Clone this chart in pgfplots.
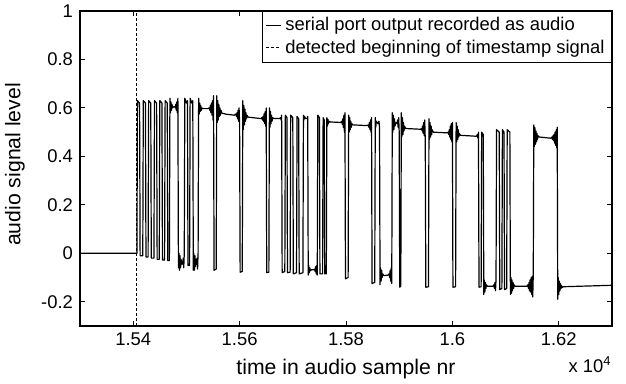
\documentclass[border=0pt]{standalone}
\usepackage{fontspec}
\setmainfont{Liberation Sans}
\usepackage{pgfplots}
\pgfplotsset{compat=1.18}
\pgfplotstableread{
x y
15300 0
15407 0
15408 0.63
15412 0.62
15413 -0.01
15418 -0.01
15419 0.63
15423 0.62
15424 -0.015
15428 -0.015
15429 0.63
15433 0.62
15434 -0.02
15439 -0.02
15440 0.63
15444 0.62
15445 -0.025
15449 -0.025
15450 0.63
15454 0.62
15455 -0.028
15459 -0.028
15460 0.63
15464 0.62
15465 -0.03
15468 -0.03
15469 0.64
15470 0.58
15471 0.625
15472 0.59
15473 0.615
15474 0.60
15476 0.605
15478 0.605
15479 0.60
15480 0.615
15481 0.59
15482 0.625
15483 0.58
15484 0.64
15485 -0.06
15486 0.0
15487 -0.07
15488 -0.01
15489 -0.06
15490 -0.025
15491 -0.045
15492 -0.035
15493 -0.045
15494 -0.02
15495 -0.06
15496 0.0
15497 0.64
15500 0.62
15502 0.63
15503 -0.05
15506 -0.05
15507 0.64
15510 0.62
15512 0.63
15513 -0.07
15514 0.0
15515 -0.07
15516 -0.01
15517 -0.055
15518 -0.025
15519 -0.045
15520 -0.02
15521 -0.065
15522 0.0
15523 0.64
15524 0.575
15525 0.62
15526 0.585
15527 0.61
15528 0.59
15529 0.60
15531 0.597
15540 0.597
15543 0.60
15544 0.59
15545 0.61
15546 0.58
15547 0.62
15548 0.57
15549 0.63
15550 0.55
15551 0.65
15552 -0.07
15556 -0.065
15557 0.65
15558 0.54
15559 0.63
15560 0.55
15561 0.615
15562 0.565
15563 0.60
15564 0.57
15565 0.59
15567 0.578
15575 0.574
15590 0.57
15593 0.575
15594 0.565
15595 0.58
15596 0.555
15597 0.59
15598 0.545
15599 0.60
15600 0.54
15601 -0.078
15605 -0.075
15606 0.63
15607 0.51
15608 0.61
15609 0.53
15610 0.595
15611 0.545
15612 0.58
15613 0.555
15614 0.57
15616 0.562
15640 0.556
15642 0.56
15643 0.55
15644 0.565
15645 0.545
15646 0.575
15647 0.535
15648 0.585
15649 0.525
15650 0.60
15651 -0.08
15655 -0.078
15656 0.60
15657 0.52
15658 0.585
15659 0.535
15660 0.57
15661 0.545
15662 0.56
15664 0.556
15675 0.556
15677 0.56
15678 0.55
15679 0.57
15680 -0.08
15685 -0.075
15686 0.57
15689 0.56
15690 -0.08
15695 -0.078
15696 0.57
15700 0.56
15701 -0.085
15707 -0.08
15708 0.565
15711 0.555
15712 -0.085
15719 -0.08
15720 0.57
15721 0.55
15722 0.565
15724 0.556
15727 0.556
15728 0.565
15729 -0.09
15730 -0.05
15731 -0.08
15732 -0.06
15733 -0.072
15735 -0.068
15740 -0.068
15741 -0.065
15742 -0.075
15743 -0.055
15744 -0.085
15745 -0.05
15746 -0.09
15747 0.57
15750 0.56
15751 -0.085
15756 -0.085
15757 0.56
15759 0.55
15760 -0.085
15763 -0.085
15764 0.56
15765 0.525
15766 0.553
15767 0.535
15768 0.545
15770 0.542
15790 0.54
15792 0.545
15793 0.532
15794 0.555
15795 0.52
15796 0.57
15797 0.50
15798 0.58
15799 -0.105
15804 -0.10
15805 0.57
15806 0.50
15807 0.56
15808 0.51
15809 0.545
15810 0.52
15811 0.535
15813 0.53
15840 0.527
15842 0.53
15843 0.52
15844 0.54
15845 0.51
15846 0.55
15847 0.50
15848 0.56
15849 -0.125
15854 -0.12
15855 0.56
15856 0.52
15857 0.545
15860 0.535
15862 0.545
15863 0.52
15864 -0.13
15865 -0.06
15866 -0.115
15867 -0.07
15868 -0.10
15869 -0.085
15871 -0.092
15879 -0.09
15881 -0.085
15882 -0.10
15883 -0.07
15884 -0.115
15885 -0.06
15886 -0.125
15887 0.58
15888 0.50
15889 0.57
15890 0.51
15891 0.555
15892 0.525
15894 0.54
15896 0.535
15897 0.55
15898 0.52
15899 0.56
15900 0.50
15901 -0.14
15903 -0.135
15904 0.58
15905 0.48
15906 0.56
15907 0.49
15908 0.54
15909 0.505
15910 0.525
15912 0.515
15940 0.512
15942 0.515
15943 0.505
15944 0.525
15945 0.495
15946 0.54
15947 0.485
15948 0.55
15949 0.47
15950 -0.14
15955 -0.138
15956 0.555
15957 0.47
15958 0.54
15959 0.48
15960 0.525
15961 0.49
15962 0.51
15964 0.50
15990 0.497
15992 0.50
15993 0.49
15994 0.51
15995 0.48
15996 0.525
15997 0.47
15998 0.535
15999 0.46
16000 0.54
16001 -0.14
16006 -0.138
16007 0.54
16008 0.46
16009 0.525
16010 0.47
16011 0.51
16012 0.48
16013 0.495
16015 0.487
16045 0.483
16047 0.49
16048 0.475
16049 0.50
16050 -0.14
16054 -0.138
16055 0.50
16058 0.49
16059 -0.17
16060 -0.11
16061 -0.16
16062 -0.12
16063 -0.145
16064 -0.13
16066 -0.136
16076 -0.136
16078 -0.13
16079 -0.145
16080 -0.12
16081 -0.155
16082 -0.11
16083 0.51
16088 0.50
16089 -0.15
16093 -0.145
16094 0.51
16097 0.50
16098 -0.15
16102 -0.145
16103 0.51
16108 0.50
16109 -0.17
16110 -0.10
16111 -0.165
16112 -0.11
16113 -0.155
16114 -0.12
16115 -0.145
16116 -0.13
16118 -0.136
16140 -0.136
16142 -0.13
16143 -0.145
16144 -0.12
16145 -0.155
16146 -0.11
16147 -0.16
16148 -0.10
16149 -0.17
16150 -0.095
16151 -0.18
16152 -0.09
16153 0.53
16154 0.44
16155 0.52
16156 0.45
16157 0.505
16158 0.46
16159 0.495
16160 0.47
16161 0.485
16163 0.48
16185 0.475
16187 0.48
16188 0.47
16189 0.485
16190 0.465
16191 0.49
16192 0.455
16193 0.50
16194 0.445
16195 0.51
16196 0.435
16197 0.52
16198 -0.19
16199 -0.10
16200 -0.17
16201 -0.115
16202 -0.155
16203 -0.125
16204 -0.145
16205 -0.133
16206 -0.142
16208 -0.138
16300 -0.132
}\signal
\begin{document}
\begin{tikzpicture}
\begin{axis}[
  scale only axis, width=266pt, height=157.5pt,
  xmin=15300, xmax=16300, ymin=-0.3, ymax=1,
  xtick={15400,15600,15800,16000,16200},
  xticklabels={1.54,1.56,1.58,1.6,1.62},
  ytick={-0.2,0,0.2,0.4,0.6,0.8,1},
  yticklabels={-0.2,0,0.2,0.4,0.6,0.8,1},
  scaled x ticks=false,
  tick align=inside, major tick length=2.5pt,
  axis line style={line width=0.6pt},
  every tick/.style={line width=0.5pt, black},
  tick label style={font=\fontsize{9.2}{11}\selectfont},
  /pgf/number format/assume math mode=true,
  xlabel={time in audio sample nr},
  x label style={font=\fontsize{10.6}{12}\selectfont, at={(axis description cs:0.5,0)}, anchor=center, yshift=-21.5pt},
  legend style={at={(1,1)}, anchor=north east, draw=black, line width=0.5pt,
    font=\fontsize{9.2}{10}\selectfont, inner xsep=1.5pt, inner ysep=1pt, row sep=-1pt},
  legend cell align=left,
  legend image code/.code={\draw[#1] (0pt,0pt) -- (7.5pt,0pt);},
]
\addplot[black, line width=0.6pt, line join=round] table[x=x,y=y] {\signal};
\addlegendentry{serial port output recorded as audio}
\addplot[black, line width=0.5pt, dash pattern=on 1.5pt off 1pt] coordinates {(15407,-0.3) (15407,1)};
\addlegendentry{detected beginning of timestamp signal}
\end{axis}
\node[rotate=90, anchor=center, inner sep=0pt, font=\fontsize{10.6}{12}\selectfont] at ([xshift=-32.5pt,yshift=2pt]current axis.west) {audio signal level};
\node[anchor=base east, inner sep=0pt, font=\fontsize{9.2}{11}\selectfont] at ([yshift=-23.5pt]current axis.south east) {x 10\textsuperscript{4}};
\pgfresetboundingbox
\path ([xshift=-40pt,yshift=-29pt]current axis.south west) rectangle ([xshift=7pt,yshift=5.5pt]current axis.north east);
\end{tikzpicture}
\end{document}
